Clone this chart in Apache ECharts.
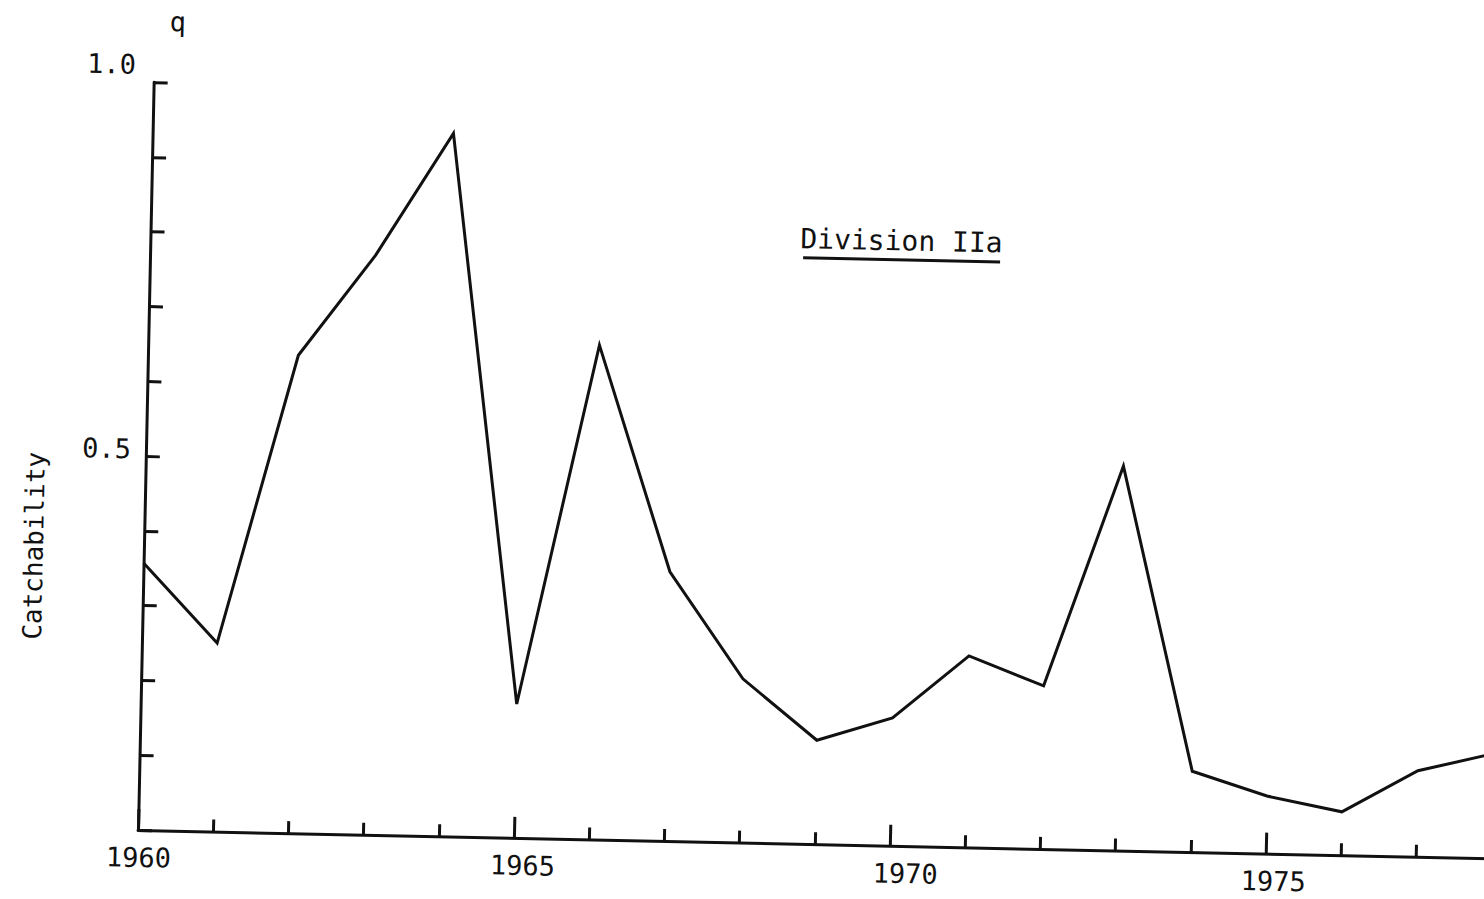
<!DOCTYPE html>
<html>
<head>
<meta charset="utf-8">
<title>Catchability – Division IIa</title>
<script src="https://cdn.jsdelivr.net/npm/echarts@6/dist/echarts.min.js"></script>
<style>
  html, body { margin: 0; padding: 0; background: #ffffff; overflow: hidden; width: 1484px; height: 899px; }
  #chart {
    position: absolute; left: 0; top: 0;
    width: 1680px; height: 920px;
    transform-origin: 138px 830px;
    transform: rotate(1.2deg);
  }
</style>
</head>
<body>
<div id="chart"></div>
<script>
// Catchability q by year, Division IIa
const years = [1960, 1961, 1962, 1963, 1964, 1965, 1966, 1967, 1968, 1969,
               1970, 1971, 1972, 1973, 1974, 1975, 1976, 1977, 1978];
const catchability = [0.357, 0.252, 0.639, 0.775, 0.940, 0.179, 0.661, 0.360, 0.219, 0.139,
                      0.171, 0.256, 0.218, 0.514, 0.108, 0.077, 0.058, 0.115, 0.140];
const xTickLabels = [1960, 1965, 1970, 1975];
const yTickLabels = ['0.5', '1.0'];
const titleText = 'Division IIa';
const yAxisName = 'Catchability';
const yAxisSymbol = 'q';

const FONT = '"DejaVu Sans Mono", "Liberation Mono", monospace';
const INK = '#111111';
const FS = 27;

// small hand-set nudges of the typed year labels
const xShift = { 1960: 1, 1965: 9, 1970: 16, 1975: 8 };
const xRich = {};
xTickLabels.forEach(function (y) {
  const d = xShift[y] || 0;
  xRich['y' + y] = {
    fontFamily: FONT, fontSize: FS, color: INK, lineHeight: FS,
    padding: d >= 0 ? [0, 0, 0, 2 * d] : [0, -2 * d, 0, 0]
  };
});

const chart = echarts.init(document.getElementById('chart'), null, { renderer: 'svg' });

chart.setOption({
  backgroundColor: '#ffffff',
  animation: false,
  grid: { left: 138, top: 82, width: 1504, height: 748, containLabel: false },
  xAxis: {
    type: 'value',
    min: 1960, max: 1980, interval: 5,
    axisLine: { show: true, onZero: false, lineStyle: { color: INK, width: 3 } },
    axisTick: { show: true, inside: true, length: 21, lineStyle: { color: INK, width: 3 } },
    minorTick: { show: true, splitNumber: 5, length: 12, lineStyle: { color: INK, width: 3 } },
    splitLine: { show: false },
    minorSplitLine: { show: false },
    axisLabel: {
      margin: 14,
      verticalAlign: 'top',
      formatter: function (v) {
        return xTickLabels.indexOf(v) >= 0 ? '{y' + v + '|' + v + '}' : '';
      },
      rich: xRich
    }
  },
  yAxis: {
    type: 'value',
    min: 0, max: 1, interval: 0.1,
    axisLine: { show: true, onZero: false, lineStyle: { color: INK, width: 3 } },
    axisTick: { show: true, inside: true, length: 14, lineStyle: { color: INK, width: 3 } },
    splitLine: { show: false },
    axisLabel: {
      margin: 15,
      formatter: function (v) {
        if (Math.abs(v - 1) < 1e-6) return '{top|' + yTickLabels[1] + '}';
        if (Math.abs(v - 0.5) < 1e-6) return '{mid|' + yTickLabels[0] + '}';
        return '';
      },
      rich: {
        top: { fontFamily: FONT, fontSize: FS, color: INK, lineHeight: FS, padding: [0, 3, 35, 0] },
        mid: { fontFamily: FONT, fontSize: FS, color: INK, lineHeight: FS, padding: [0, 0, 14, 0] }
      }
    }
  },
  graphic: [
    {
      type: 'text',
      x: 161, y: 21,
      style: { text: yAxisSymbol, font: FS + 'px ' + FONT, fill: INK, align: 'center', verticalAlign: 'middle' }
    },
    {
      type: 'text',
      x: 28, y: 548, rotation: Math.PI / 2,
      style: { text: yAxisName, font: '26px ' + FONT, fill: INK, align: 'center', verticalAlign: 'middle' }
    },
    {
      type: 'text',
      x: 889, y: 225,
      style: { text: titleText, font: '28px ' + FONT, fill: INK, align: 'center', verticalAlign: 'middle' }
    },
    {
      type: 'line',
      shape: { x1: 791, y1: 244, x2: 988, y2: 244 },
      style: { stroke: INK, lineWidth: 3 }
    }
  ],
  series: [{
    type: 'line',
    data: years.map(function (y, i) { return [y, catchability[i]]; }),
    showSymbol: false,
    symbol: 'none',
    clip: false,
    lineStyle: { color: INK, width: 3, join: 'miter' }
  }]
});
</script>
</body>
</html>
